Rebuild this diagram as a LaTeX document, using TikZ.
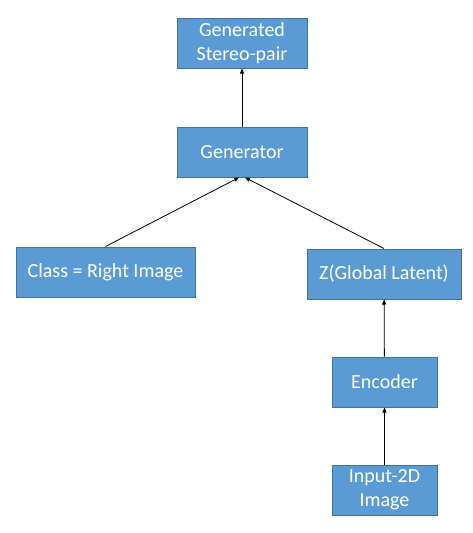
\documentclass[tikz,border=0pt]{standalone}
\usepackage{fontspec}
\setmainfont{Carlito}
\usetikzlibrary{arrows.meta}
\definecolor{boxfill}{HTML}{5B9BD5}
\definecolor{boxline}{HTML}{41719C}

\begin{document}
\begin{tikzpicture}[x=1pt,y=1pt,
    blockbox/.style={draw=boxline, fill=boxfill, line width=1pt, text=white,
        minimum height=50pt, inner sep=2pt, align=center,
        font=\fontsize{20}{24}\selectfont},
    >={Triangle[length=5pt,width=4pt]}]
        \useasboundingbox (0,0) rectangle (472,-533);
        \node[blockbox, minimum width=130pt] (S) at (242,-43) {Generated\\Stereo-pair};
        \node[blockbox, minimum width=130pt] (G) at (242,-152) {Generator};
        \node[blockbox, minimum width=179pt] (C) at (105.5,-272) {Class = Right Image};
        \node[blockbox, minimum width=154pt] (Z) at (384,-274) {Z(Global Latent)};
        \node[blockbox, minimum width=105pt] (E) at (384.5,-382) {Encoder};
        \node[blockbox, minimum width=105pt] (I) at (384.5,-490) {Input-2D\\Image};
        \draw[->, line width=0.8pt] (G) -- (S);
        \draw[->, line width=0.8pt] (C.north) -- ([xshift=-3pt]G.south);
        \draw[->, line width=0.8pt] (Z.north) -- ([xshift=3pt]G.south);
        \draw[->, line width=0.8pt] (E) -- (Z);
        \draw[->, line width=0.8pt] (I) -- (E);
    \end{tikzpicture}
\end{document}
